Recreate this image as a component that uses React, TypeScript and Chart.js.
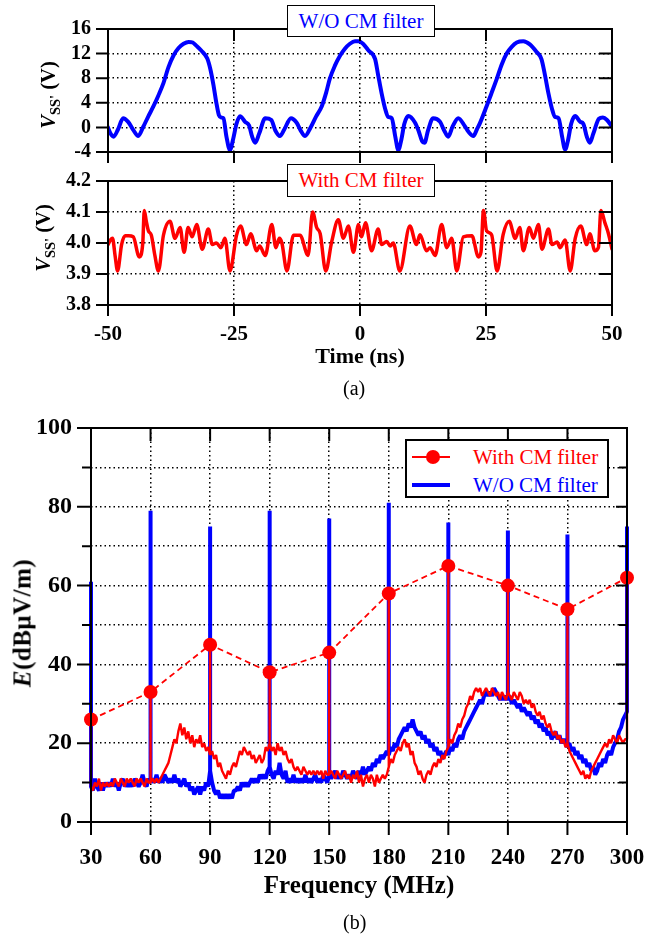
import React, { useEffect, useRef } from 'react';
import { Chart, registerables } from 'chart.js';

Chart.register(...registerables);

const FONT = "'Liberation Serif', 'Times New Roman', Times, serif";
const BLUE = '#0000ff';
const RED = '#ff0000';

// ---------- (a) time domain ----------
const TIME_TICKS = [-50, -25, 0, 25, 50];
const TOP_Y_TICKS = [-4, 0, 4, 8, 12, 16];
const MID_Y_TICKS = [3.8, 3.9, 4.0, 4.1, 4.2];

const TOP_TIME = [
  -50, -49.5, -48.9, -48, -47, -46, -45, -44, -43, -42,
  -41, -40, -39, -38, -37, -36, -35, -34, -33.2, -32.5,
  -31.5, -30.3, -29.7, -29.1, -28.5, -28, -27.5, -27.1, -26.5, -25.8,
  -25.2, -24.5, -23.8, -22.8, -22, -21.4, -20.8, -20, -18.8, -17.6,
  -16.8, -15.9, -15, -13.7, -12.6, -11.7, -10.9, -9.8, -8.7, -7.6,
  -6.7, -6, -5, -4, -3, -2, -1, -0.3, 0.6, 1.7,
  3, 3.6, 4.3, 5, 5.6, 6.3, 7, 7.6, 8.2, 8.8,
  9.6, 10.9, 11.6, 12.3, 12.8, 13.5, 14.5, 15.9, 16.7, 17.5,
  18.4, 19.5, 20.8, 21.6, 22.5, 23.2, 23.8, 25.1, 26.1, 27.1,
  28.1, 29.1, 30.1, 31.1, 32.4, 33.7, 35, 36, 36.7, 37.4,
  38.1, 38.7, 39.4, 40.1, 40.7, 41.3, 41.9, 42.7, 43.7, 44.3,
  45, 45.6, 46.3, 47.4, 48.2, 49, 50,
];
const TOP_V = [
  0, -1, -1.5, -0.3, 1.5, 0.9, -0.4, -1.4, 0.1, 1.8,
  3.4, 5.2, 7.2, 9.8, 11.7, 12.9, 13.6, 13.9, 13.8, 13.3,
  12.5, 11.2, 9.5, 7, 4, 2, 1.6, 1.5, -1.5, -3.7,
  -2, 0.6, 1.8, 0.9, 0.3, -1.5, -2.5, -1, 1.5, 1.2,
  -0.5, -1.4, -0.3, 1.5, 0.8, -0.6, -1.4, 0, 1.8, 3.4,
  5.7, 7.9, 10, 11.6, 12.8, 13.6, 14, 14, 13.6, 12.5,
  11.1, 8.5, 5.5, 3, 1.7, 1.5, -1.5, -3.7, -2, 0.6,
  1.85, 0.8, -0.5, -2.2, -2.5, -0.5, 1.5, 0.9, -0.5, -1.5,
  0.2, 1.5, 0.2, -0.8, -1.4, -0.3, 0.7, 3.4, 5.6, 7.8,
  10.2, 12, 13.1, 13.8, 14, 13.5, 12.3, 11.1, 8.5, 5.5,
  3, 1.7, 1.5, -1.5, -3.6, -2, 0.6, 1.85, 0.9, 0.6,
  -1.5, -2.5, -1, 1.4, 1.6, 1.2, 0.1,
];

const MID_TIME = [
  -50, -49.5, -49.1, -48.6, -48.1, -47.3, -46.6, -45.9, -45, -44,
  -43.8, -43.1, -42.8, -42.4, -42, -41.4, -40.7, -40, -39, -37.7,
  -36.7, -35.7, -34.9, -34.1, -33.3, -32.4, -31.3, -30.1, -29.3, -28.5,
  -27.6, -26.8, -25.8, -24.5, -23.7, -22.5, -21.7, -20.5, -19.9, -18.8,
  -17.5, -16.7, -16, -15.5, -14.5, -13.2, -11.9, -10.3, -9.4, -8.6,
  -7.9, -6.8, -5.6, -4.3, -3.3, -2.3, -1.3, -0.3, 0.3, 1.1,
  2.3, 3.6, 4.3, 5.3, 6, 6.6, 7.9, 9.9, 11.2, 11.9,
  13.2, 13.9, 14.9, 16.2, 17.2, 18.2, 19.2, 20.5, 22.2, 23.5,
  24, 24.5, 25.1, 26.1, 27.2, 28.4, 29.6, 30.8, 31.7, 32.4,
  33.6, 34.4, 35.4, 36.1, 37.4, 38.1, 39.1, 39.7, 40.7, 41.7,
  42.7, 43.8, 45, 45.6, 46.6, 47.3, 47.8, 48.6, 49.3, 50,
];
const MID_V = [
  3.995, 4.01, 4.015, 3.96, 3.91, 3.995, 4.023, 4.023, 4.02, 3.96,
  3.955, 4.0, 4.105, 4.07, 4.04, 4.025, 3.96, 3.91, 4.025, 4.07,
  4.015, 4.05, 3.97, 4.05, 4.02, 4.06, 3.98, 4.045, 3.995, 4.0,
  3.985, 4.015, 3.91, 4.025, 4.055, 3.995, 4.03, 3.975, 3.99, 3.96,
  4.06, 3.985, 4.015, 4.0, 3.91, 4.025, 4.025, 3.96, 4.1, 4.05,
  4.03, 3.91, 4.005, 4.075, 4.015, 4.055, 3.97, 4.06, 4.02, 4.065,
  3.975, 4.045, 3.995, 4.005, 3.99, 4.0, 3.91, 4.055, 3.995, 4.027,
  3.975, 3.985, 3.96, 4.06, 3.985, 4.015, 3.91, 4.02, 4.023, 3.955,
  3.97, 4.105, 4.04, 4.027, 3.91, 4.027, 4.07, 4.015, 4.05, 3.975,
  4.05, 4.015, 4.06, 3.98, 4.045, 3.995, 4.003, 3.985, 4.01, 3.91,
  4.015, 4.055, 3.995, 4.03, 3.975, 3.985, 4.105, 4.065, 4.03, 3.98,
];

// ---------- (b) spectrum ----------
const FREQ_TICKS = [30, 60, 90, 120, 150, 180, 210, 240, 270, 300];
const E_TICKS = [0, 10, 20, 30, 40, 50, 60, 70, 80, 90, 100];
const FREQ_START = 30; // MHz, one sample per MHz
const BLUE_NOISE = [
  9, 8, 11, 9, 8, 10, 8, 10, 9, 10,
  9, 11, 9, 10, 8, 10, 11, 9, 10, 9,
  10, 9, 11, 10, 9, 10, 12, 10, 9, 11,
  10, 11, 10, 12, 10, 11, 10, 12, 11, 10,
  11, 10, 12, 10, 11, 9, 10, 11, 9, 10,
  8, 9, 7, 8, 9, 7, 9, 8, 10, 9,
  13, 10, 8, 7, 8, 6, 7, 6, 7, 6,
  7, 6, 8, 8, 9, 8, 10, 9, 10, 9,
  10, 11, 10, 11, 10, 12, 11, 12, 11, 13,
  14, 12, 11, 13, 12, 15, 12, 11, 13, 10,
  11, 10, 12, 10, 11, 10, 11, 10, 12, 10,
  11, 10, 11, 12, 10, 11, 10, 12, 11, 10,
  12, 11, 12, 13, 11, 12, 11, 13, 12, 11,
  12, 11, 13, 12, 11, 13, 12, 14, 12, 13,
  14, 13, 15, 14, 16, 15, 17, 16, 17, 18,
  17, 19, 18, 20, 19, 21, 22, 23, 24, 23,
  25, 24, 26, 24, 23, 22, 23, 21, 22, 20,
  21, 19, 20, 18, 19, 17, 18, 16, 17, 18,
  17, 19, 18, 20, 19, 21, 22, 21, 23, 24,
  25, 26, 27, 28, 29, 30, 31, 30, 32, 33,
  32, 33, 32, 34, 33, 32, 31, 32, 31, 32,
  31, 32, 30, 31, 30, 29, 30, 28, 29, 28,
  27, 28, 26, 27, 25, 26, 24, 25, 23, 24,
  22, 23, 21, 22, 23, 21, 22, 20, 21, 20,
  19, 20, 18, 19, 17, 18, 16, 17, 15, 16,
  14, 15, 13, 14, 12, 13, 15, 14, 16, 15,
  17, 18, 17, 19, 20, 21, 23, 24, 26, 27,
  28,
];
const RED_NOISE = [
  9, 8, 10, 9, 11, 8, 10, 9, 10, 9,
  10, 9, 11, 10, 9, 11, 10, 9, 11, 10,
  11, 10, 9, 11, 10, 11, 10, 9, 11, 10,
  10, 11, 10, 11, 10, 11, 12, 13, 14, 15,
  17, 19, 21, 20, 23, 25, 22, 24, 21, 23,
  20, 22, 19, 21, 20, 22, 19, 20, 18, 19,
  17, 18, 16, 17, 14, 15, 13, 12, 11, 13,
  12, 14, 15, 14, 16, 18, 17, 19, 18, 17,
  18, 16, 17, 15, 16, 17, 15, 16, 19, 18,
  20, 18, 19, 17, 20, 18, 19, 17, 18, 16,
  15, 16, 14, 13, 14, 13, 12, 14, 13, 12,
  13, 12, 13, 12, 13, 12, 13, 11, 13, 12,
  12, 13, 12, 11, 13, 12, 11, 12, 13, 11,
  12, 10, 12, 11, 13, 10, 12, 9, 11, 12,
  10, 12, 11, 9, 12, 10, 11, 12, 11, 12,
  14, 16, 15, 17, 18, 19, 18, 20, 21, 19,
  20, 17, 18, 15, 14, 12, 13, 11, 10, 12,
  13, 12, 14, 15, 14, 16, 15, 17, 16, 18,
  19, 21, 20, 22, 23, 25, 24, 26, 27, 29,
  30, 32, 31, 33, 34, 33, 34, 32, 33, 34,
  33, 32, 34, 33, 32, 33, 31, 33, 32, 31,
  33, 32, 31, 33, 32, 31, 33, 32, 30, 31,
  30, 31, 29, 30, 28, 27, 28, 26, 27, 25,
  24, 25, 23, 22, 23, 21, 22, 20, 21, 19,
  20, 18, 17, 16, 15, 14, 13, 12, 13, 11,
  12, 11, 13, 14, 15, 16, 17, 18, 19, 20,
  19, 21, 20, 22, 21, 20, 22, 21, 20, 21,
  21,
];
const HARMONICS = [30, 60, 90, 120, 150, 180, 210, 240, 270, 300];
const BLUE_PEAKS = [61, 79, 75, 79, 77, 81, 76, 74, 73, 75];
const RED_PEAKS = [26, 33, 45, 38, 43, 58, 65, 60, 54, 62];

// ---------- helpers ----------
function pairs(xs: number[], ys: number[]) {
  return xs.map((x, i) => ({ x, y: ys[i] }));
}
function spectrum(noise: number[], peaks: number[]) {
  const pts: { x: number; y: number }[] = [];
  noise.forEach((v, i) => {
    const f = FREQ_START + i;
    const h = HARMONICS.indexOf(f);
    pts.push({ x: f, y: v });
    if (h >= 0) {
      pts.push({ x: f, y: peaks[h] });
      pts.push({ x: f, y: v });
    }
  });
  return pts;
}
const setTicks = (vals: number[]) => (s: any) => {
  s.ticks = vals.map((v) => ({ value: v }));
};
const fixX = (h: number) => (s: any) => {
  s.height = h;
  s.paddingLeft = 0;
  s.paddingRight = 0;
};
const fixY = (w: number) => (s: any) => {
  s.width = w;
  s.paddingTop = 0;
  s.paddingBottom = 0;
};

const frameTicks = {
  id: 'frameTicks',
  afterDraw(chart: any, _args: any, o: any) {
    const { ctx, chartArea: a, scales } = chart;
    const xs = scales.x;
    const ys = scales.y;
    ctx.save();
    ctx.strokeStyle = '#000';
    ctx.lineWidth = 2;
    ctx.beginPath();
    (o.left || []).forEach((g: any) =>
      g.vals.forEach((v: number) => {
        const y = ys.getPixelForValue(v);
        ctx.moveTo(a.left - g.len, y);
        ctx.lineTo(a.left, y);
      })
    );
    (o.right || []).forEach((g: any) =>
      g.vals.forEach((v: number) => {
        const y = ys.getPixelForValue(v);
        ctx.moveTo(a.right - g.len, y);
        ctx.lineTo(a.right, y);
      })
    );
    (o.top || []).forEach((g: any) =>
      g.vals.forEach((v: number) => {
        const x = xs.getPixelForValue(v);
        ctx.moveTo(x, a.top);
        ctx.lineTo(x, a.top + g.len);
      })
    );
    (o.bottom || []).forEach((g: any) =>
      g.vals.forEach((v: number) => {
        const x = xs.getPixelForValue(v);
        ctx.moveTo(x, a.bottom);
        ctx.lineTo(x, a.bottom + g.len);
      })
    );
    ctx.stroke();
    ctx.strokeRect(a.left, a.top, a.right - a.left, a.bottom - a.top);
    ctx.restore();
  },
};

const grid = { color: '#000', lineWidth: 1.5, drawTicks: false };
const border = { display: false, dash: [1.5, 3] };
const bold = (size: number) => ({ family: FONT, size, weight: 'bold' as const });

function topConfig(): any {
  return {
    type: 'line',
    data: {
      datasets: [
        {
          data: pairs(TOP_TIME, TOP_V),
          borderColor: BLUE,
          borderWidth: 4,
          pointRadius: 0,
          cubicInterpolationMode: 'monotone',
          borderJoinStyle: 'round',
          borderCapStyle: 'round',
        },
      ],
    },
    options: {
      responsive: false,
      animation: false,
      events: [],
      layout: { padding: { top: 29, left: 0, right: 35, bottom: 0 } },
      plugins: {
        legend: { display: false },
        tooltip: { enabled: false },
        frameTicks: {
          left: [{ vals: TOP_Y_TICKS, len: 12 }],
          right: [{ vals: [0, 4, 8, 12], len: 13 }],
          top: [{ vals: [-25, 0, 25], len: 12 }],
          bottom: [{ vals: TIME_TICKS, len: 11 }],
        },
      },
      scales: {
        x: {
          type: 'linear', min: -50, max: 50,
          afterBuildTicks: setTicks(TIME_TICKS),
          afterFit: fixX(18),
          ticks: { display: false },
          grid, border,
        },
        y: {
          type: 'linear', min: -4, max: 16,
          afterBuildTicks: setTicks(TOP_Y_TICKS),
          afterFit: fixY(108),
          ticks: { color: '#000', font: bold(20), padding: 17, autoSkip: false, callback: (v: any) => String(v) },
          grid, border,
        },
      },
    },
    plugins: [frameTicks],
  };
}

function midConfig(): any {
  return {
    type: 'line',
    data: {
      datasets: [
        {
          data: pairs(MID_TIME, MID_V),
          borderColor: RED,
          borderWidth: 3.5,
          pointRadius: 0,
          cubicInterpolationMode: 'monotone',
          borderJoinStyle: 'round',
          borderCapStyle: 'round',
        },
      ],
    },
    options: {
      responsive: false,
      animation: false,
      events: [],
      layout: { padding: { top: 21, left: 0, right: 35, bottom: 25 } },
      plugins: {
        legend: { display: false },
        tooltip: { enabled: false },
        frameTicks: {
          left: [{ vals: MID_Y_TICKS, len: 12 }],
          right: [{ vals: [3.9, 4.0, 4.1], len: 13 }],
          bottom: [{ vals: TIME_TICKS, len: 11 }],
        },
      },
      scales: {
        x: {
          type: 'linear', min: -50, max: 50,
          afterBuildTicks: setTicks(TIME_TICKS),
          afterFit: fixX(70),
          ticks: { color: '#000', font: bold(21), padding: 17, maxRotation: 0, autoSkip: false, callback: (v: any) => String(v) },
          title: { display: true, text: 'Time (ns)', color: '#000', font: bold(22), padding: { top: 0, bottom: 4 } },
          grid, border,
        },
        y: {
          type: 'linear', min: 3.8, max: 4.2,
          afterBuildTicks: setTicks(MID_Y_TICKS),
          afterFit: fixY(108),
          ticks: { color: '#000', font: bold(20), padding: 17, autoSkip: false, callback: (v: any) => Number(v).toFixed(1) },
          grid, border,
        },
      },
    },
    plugins: [frameTicks],
  };
}

function botConfig(): any {
  return {
    type: 'line',
    data: {
      datasets: [
        {
          label: 'With CM filter',
          data: pairs(HARMONICS, RED_PEAKS),
          borderColor: RED,
          backgroundColor: RED,
          borderWidth: 1.8,
          borderDash: [6, 4],
          pointRadius: 7,
          pointBackgroundColor: RED,
          pointBorderWidth: 0,
          clip: false,
          order: 0,
        },
        {
          label: 'With CM filter spectrum',
          data: spectrum(RED_NOISE, RED_PEAKS),
          borderColor: RED,
          borderWidth: 2.4,
          pointRadius: 0,
          borderJoinStyle: 'bevel',
          clip: false,
          order: 1,
        },
        {
          label: 'W/O CM filter',
          data: spectrum(BLUE_NOISE, BLUE_PEAKS),
          borderColor: BLUE,
          borderWidth: 4,
          pointRadius: 0,
          borderJoinStyle: 'bevel',
          clip: false,
          order: 2,
        },
      ],
    },
    options: {
      responsive: false,
      animation: false,
      events: [],
      layout: { padding: { top: 28, left: 0, right: 20, bottom: 34 } },
      plugins: {
        legend: { display: false },
        tooltip: { enabled: false },
        frameTicks: {
          left: [
            { vals: [0, 20, 40, 60, 80, 100], len: 14 },
            { vals: [10, 30, 50, 70, 90], len: 9 },
          ],
          right: [
            { vals: [20, 40, 60, 80], len: 11 },
            { vals: [10, 30, 50, 70, 90], len: 8 },
          ],
          top: [{ vals: [60, 90, 120, 150, 180, 210, 240, 270], len: 13 }],
          bottom: [{ vals: FREQ_TICKS, len: 13 }],
        },
      },
      scales: {
        x: {
          type: 'linear', min: 30, max: 300,
          afterBuildTicks: setTicks(FREQ_TICKS),
          afterFit: fixX(90),
          ticks: { color: '#000', font: bold(23), padding: 22, maxRotation: 0, autoSkip: false, callback: (v: any) => String(v) },
          title: { display: true, text: 'Frequency (MHz)', color: '#000', font: bold(25), padding: { top: 0, bottom: 10 } },
          grid, border,
        },
        y: {
          type: 'linear', min: 0, max: 100,
          afterBuildTicks: setTicks(E_TICKS),
          afterFit: fixY(91),
          ticks: { color: '#000', font: bold(24), padding: 19, autoSkip: false, callback: (v: any) => (Number(v) % 20 === 0 ? String(v) : '') },
          grid, border,
        },
      },
    },
    plugins: [frameTicks],
  };
}

const abs = (o: React.CSSProperties): React.CSSProperties => ({ position: 'absolute', ...o });

export default function App() {
  const topRef = useRef<HTMLCanvasElement>(null);
  const midRef = useRef<HTMLCanvasElement>(null);
  const botRef = useRef<HTMLCanvasElement>(null);

  useEffect(() => {
    const charts = [
      new Chart(topRef.current as HTMLCanvasElement, topConfig()),
      new Chart(midRef.current as HTMLCanvasElement, midConfig()),
      new Chart(botRef.current as HTMLCanvasElement, botConfig()),
    ];
    return () => charts.forEach((c) => c.destroy());
  }, []);

  const yTitle = (cx: number, cy: number, size: number): React.CSSProperties =>
    abs({
      left: cx,
      top: cy,
      transform: 'translate(-50%, -50%) rotate(-90deg)',
      whiteSpace: 'nowrap',
      font: `bold ${size}px ${FONT}`,
      color: '#000',
      lineHeight: 1,
    });

  const box = (top: number, h: number, color: string): React.CSSProperties =>
    abs({
      left: 287,
      top,
      width: 148,
      height: h,
      boxSizing: 'border-box',
      border: '1.5px solid #000',
      background: '#fff',
      color,
      font: `21px ${FONT}`,
      display: 'flex',
      alignItems: 'center',
      justifyContent: 'center',
      whiteSpace: 'nowrap',
    });

  return (
    <div style={abs({ left: 0, top: 0, width: 647, height: 946, background: '#fff', overflow: 'hidden' })}>
      <canvas ref={topRef} width={647} height={170} style={abs({ left: 0, top: 0, width: 647, height: 170 })} />
      <canvas ref={midRef} width={647} height={240} style={abs({ left: 0, top: 160, width: 647, height: 240 })} />
      <canvas ref={botRef} width={647} height={546} style={abs({ left: 0, top: 400, width: 647, height: 546 })} />

      <div style={yTitle(50, 95, 20.5)}>
        <i>V</i>
        <sub style={{ fontSize: 14.5 }}>SS'</sub> (V)
      </div>
      <div style={yTitle(45, 238, 20.5)}>
        <i>V</i>
        <sub style={{ fontSize: 14.5 }}>SS'</sub> (V)
      </div>
      <div style={{ ...yTitle(22, 623, 25), letterSpacing: 0.5 }}>
        <i>E</i>(dBμV/m)
      </div>

      <div style={box(5, 32, BLUE)}>W/O CM filter</div>
      <div style={box(164, 33, RED)}>With CM filter</div>

      <div style={abs({ left: 343, top: 377, font: `20px ${FONT}`, color: '#000' })}>(a)</div>
      <div style={abs({ left: 343, top: 911, font: `20px ${FONT}`, color: '#000' })}>(b)</div>

      {/* legend */}
      <div style={abs({ left: 405, top: 439, width: 204, height: 59, boxSizing: 'border-box', border: '2px solid #000', background: '#fff' })} />
      <div style={abs({ left: 412, top: 456, width: 38, height: 2, background: RED })} />
      <div style={abs({ left: 426, top: 450, width: 14, height: 14, borderRadius: 7, background: RED })} />
      <div style={abs({ left: 412, top: 483, width: 38, height: 4, background: BLUE })} />
      <div style={abs({ left: 473, top: 445, font: `21px ${FONT}`, color: RED, whiteSpace: 'nowrap', lineHeight: '24px' })}>With CM filter</div>
      <div style={abs({ left: 473, top: 473, font: `21px ${FONT}`, color: BLUE, whiteSpace: 'nowrap', lineHeight: '24px' })}>W/O CM filter</div>
    </div>
  );
}
